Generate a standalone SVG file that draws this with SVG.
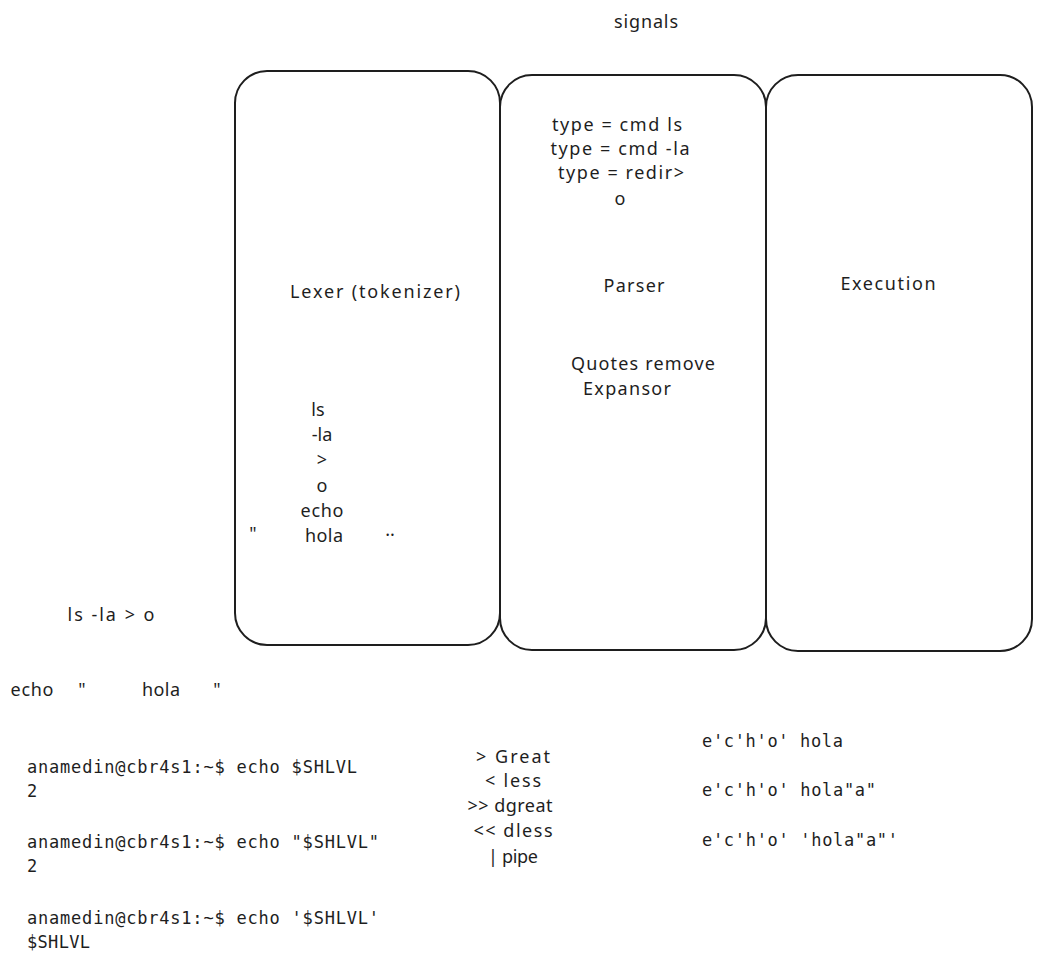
<svg xmlns="http://www.w3.org/2000/svg" width="1041" height="965" viewBox="0 0 1041 965">
<style>
.box{fill:none;stroke:#1e1e1e;stroke-width:2}
.h{font-family:"Noto Sans","Liberation Sans",sans-serif;font-size:18px;fill:#1e1e1e;text-anchor:middle}
.m{font-family:"DejaVu Sans Mono","Liberation Mono",monospace;font-size:17px;fill:#1e1e1e}
</style>
<rect width="1041" height="965" fill="#ffffff"/>
<g id="lexer">
<rect class="box" x="235" y="71" width="265" height="574" rx="32"/>
<text class="h" x="375" y="298" textLength="170" lengthAdjust="spacing">Lexer (tokenizer)</text>
<text class="h" x="318" y="416">ls</text>
<text class="h" x="322" y="441">-la</text>
<text class="h" x="322" y="466">&gt;</text>
<text class="h" x="322" y="492">o</text>
<text class="h" x="322" y="517" textLength="43" lengthAdjust="spacing">echo</text>
<text class="h" x="324" y="542" textLength="38" lengthAdjust="spacing">hola</text>
<text class="h" x="253" y="540">"</text>
<text class="h" x="390" y="536">..</text>
</g>
<g id="parser">
<rect class="box" x="500" y="75" width="266" height="575" rx="32"/>
<text class="h" x="634" y="292" textLength="61" lengthAdjust="spacing">Parser</text>
<text class="h" x="617" y="131" textLength="130" lengthAdjust="spacing">type = cmd ls</text>
<text class="h" x="620" y="155" textLength="139" lengthAdjust="spacing">type = cmd -la</text>
<text class="h" x="621" y="179" textLength="126" lengthAdjust="spacing">type = redir&gt;</text>
<text class="h" x="620" y="205">o</text>
<text class="h" x="643" y="370" textLength="144" lengthAdjust="spacing">Quotes remove</text>
<text class="h" x="627" y="395" textLength="88" lengthAdjust="spacing">Expansor</text>
</g>
<g id="execution">
<rect class="box" x="766" y="75" width="266" height="576" rx="32"/>
<text class="h" x="888" y="290" textLength="95" lengthAdjust="spacing">Execution</text>
</g>
<g id="connectors"></g>
<g id="notes">
<text class="h" x="646" y="28" textLength="64" lengthAdjust="spacing">signals</text>
<text class="h" x="111" y="621" textLength="87" lengthAdjust="spacing">ls -la &gt; o</text>
<text class="h" x="32" y="696" textLength="43" lengthAdjust="spacing">echo</text>
<text class="h" x="82" y="696">"</text>
<text class="h" x="161" y="696" textLength="38" lengthAdjust="spacing">hola</text>
<text class="h" x="217" y="696">"</text>
<text class="h" x="513" y="763" textLength="74" lengthAdjust="spacing">&gt; Great</text>
<text class="h" x="513" y="787" textLength="56" lengthAdjust="spacing">&lt; less</text>
<text class="h" x="510" y="812" textLength="85" lengthAdjust="spacing">&gt;&gt; dgreat</text>
<text class="h" x="513" y="837" textLength="79" lengthAdjust="spacing">&lt;&lt; dless</text>
<text class="h" x="513" y="863" textLength="50" lengthAdjust="spacing">| pipe</text>
<text class="m" x="27" y="773" textLength="330" lengthAdjust="spacing">anamedin@cbr4s1:~$ echo $SHLVL</text>
<text class="m" x="27" y="797">2</text>
<text class="m" x="27" y="848" textLength="352" lengthAdjust="spacing">anamedin@cbr4s1:~$ echo "$SHLVL"</text>
<text class="m" x="27" y="872">2</text>
<text class="m" x="27" y="924" textLength="352" lengthAdjust="spacing">anamedin@cbr4s1:~$ echo '$SHLVL'</text>
<text class="m" x="27" y="948" textLength="63" lengthAdjust="spacing">$SHLVL</text>
<text class="m" x="702" y="747" textLength="141" lengthAdjust="spacing">e'c'h'o' hola</text>
<text class="m" x="702" y="796" textLength="174" lengthAdjust="spacing">e'c'h'o' hola"a"</text>
<text class="m" x="702" y="846" textLength="196" lengthAdjust="spacing">e'c'h'o' 'hola"a"'</text>
</g>
</svg>
